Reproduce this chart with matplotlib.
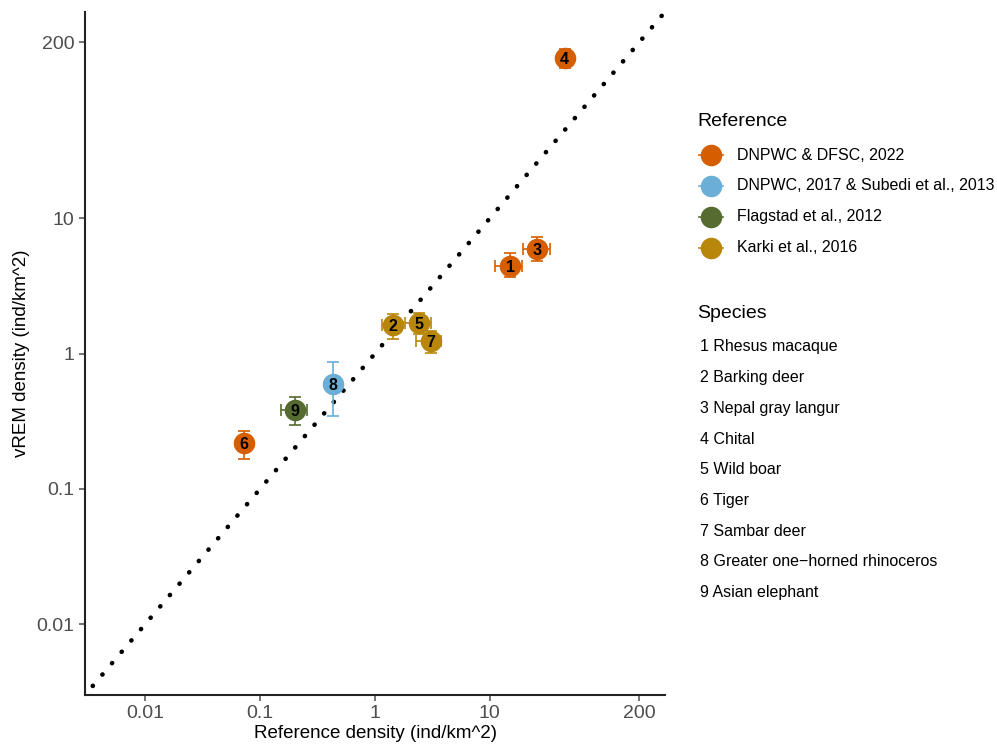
import matplotlib
matplotlib.use("Agg")
import matplotlib.pyplot as plt
from matplotlib.lines import Line2D
import numpy as np

plt.rcParams['font.family'] = ['Liberation Sans', 'DejaVu Sans']

# species id, reference source, and densities (ind/km^2)
species_id = [1, 2, 3, 4, 5, 6, 7, 8, 9]
species_names = ["Rhesus macaque", "Barking deer", "Nepal gray langur", "Chital",
                 "Wild boar", "Tiger", "Sambar deer",
                 "Greater one\u2212horned rhinoceros", "Asian elephant"]
source = [0, 3, 0, 0, 3, 0, 3, 1, 2]
ref_density = [15.0, 1.43, 26.0, 44.8, 2.41, 0.0727, 3.05, 0.432, 0.202]
ref_lo = [11.0, 1.16, 19.6, 41.0, 1.81, 0.069, 2.30, 0.41, 0.152]
ref_hi = [19.2, 1.67, 33.1, 49.0, 3.05, 0.077, 3.73, 0.455, 0.256]
vrem_density = [4.47, 1.64, 5.96, 153.0, 1.69, 0.217, 1.23, 0.601, 0.386]
vrem_lo = [3.67, 1.29, 4.82, 130.0, 1.40, 0.166, 1.01, 0.344, 0.299]
vrem_hi = [5.50, 1.97, 7.26, 179.0, 2.01, 0.268, 1.47, 0.867, 0.478]

source_names = ["DNPWC & DFSC, 2022", "DNPWC, 2017 & Subedi et al., 2013",
                "Flagstad et al., 2012", "Karki et al., 2016"]
source_colors = ["#D55E00", "#6BAED6", "#556B2F", "#B8860B"]

tick_vals = [0.01, 0.1, 1, 10, 200]
tick_labels = ["0.01", "0.1", "1", "10", "200"]
lims = (0.003, 335)

fig = plt.figure(figsize=(9.97, 7.47), dpi=100)
ax = fig.add_axes([0.0853, 0.0696, 0.5817, 0.9144])

# 1:1 line
ax.plot([0.0035, 360], [0.0035, 360], color='black', lw=3.3,
        linestyle=(0, (0.05, 3.2)), dash_capstyle='round', zorder=1, clip_on=False)

for i in range(len(species_id)):
    c = source_colors[source[i]]
    x, y = ref_density[i], vrem_density[i]
    ax.errorbar(x, y,
                xerr=[[x - ref_lo[i]], [ref_hi[i] - x]],
                yerr=[[y - vrem_lo[i]], [vrem_hi[i] - y]],
                fmt='o', color=c, ms=14.5, elinewidth=1.2, capsize=4.5,
                capthick=1.2, zorder=2)
    ax.text(x, y, str(species_id[i]), ha='center', va='center_baseline',
            fontsize=11.5, fontweight='bold', color='black', zorder=3)

ax.set_xscale('log')
ax.set_yscale('log')
ax.set_xlim(lims)
ax.set_ylim(lims)
ax.set_xticks(tick_vals)
ax.set_xticklabels(tick_labels)
ax.set_yticks(tick_vals)
ax.set_yticklabels(tick_labels)
ax.minorticks_off()
ax.tick_params(axis='both', labelsize=14, colors='#4D4D4D', length=4, width=1.1,
               labelcolor='#4D4D4D')
for s in ['top', 'right']:
    ax.spines[s].set_visible(False)
for s in ['left', 'bottom']:
    ax.spines[s].set_linewidth(1.5)
    ax.spines[s].set_color('#222222')
ax.set_xlabel("Reference density (ind/km^2)", fontsize=13.5, labelpad=2)
ax.set_ylabel("vREM density (ind/km^2)", fontsize=13.5, labelpad=5)

# legend: Reference
fig.text(697 / 997, 1 - 122 / 747, "Reference", fontsize=14, va='center', ha='left')
for k, name in enumerate(source_names):
    yy = 1 - (155 + 31 * k) / 747
    fig.add_artist(Line2D([699 / 997, 723 / 997], [yy, yy], color=source_colors[k],
                          lw=1.2, transform=fig.transFigure))
    fig.add_artist(Line2D([711 / 997], [yy], marker='o', ms=14.5, color=source_colors[k],
                          transform=fig.transFigure))
    fig.text(737 / 997, yy, name, fontsize=11.5, va='center', ha='left')

# legend: Species
fig.text(697 / 997, 1 - 313 / 747, "Species", fontsize=14, va='center', ha='left')
for k, name in enumerate(species_names):
    yy = 1 - (347 + 30.7 * k) / 747
    fig.text(700 / 997, yy, "%d %s" % (species_id[k], name), fontsize=11.5,
             va='center', ha='left')

fig.savefig("out.png", dpi=100, facecolor='white')
